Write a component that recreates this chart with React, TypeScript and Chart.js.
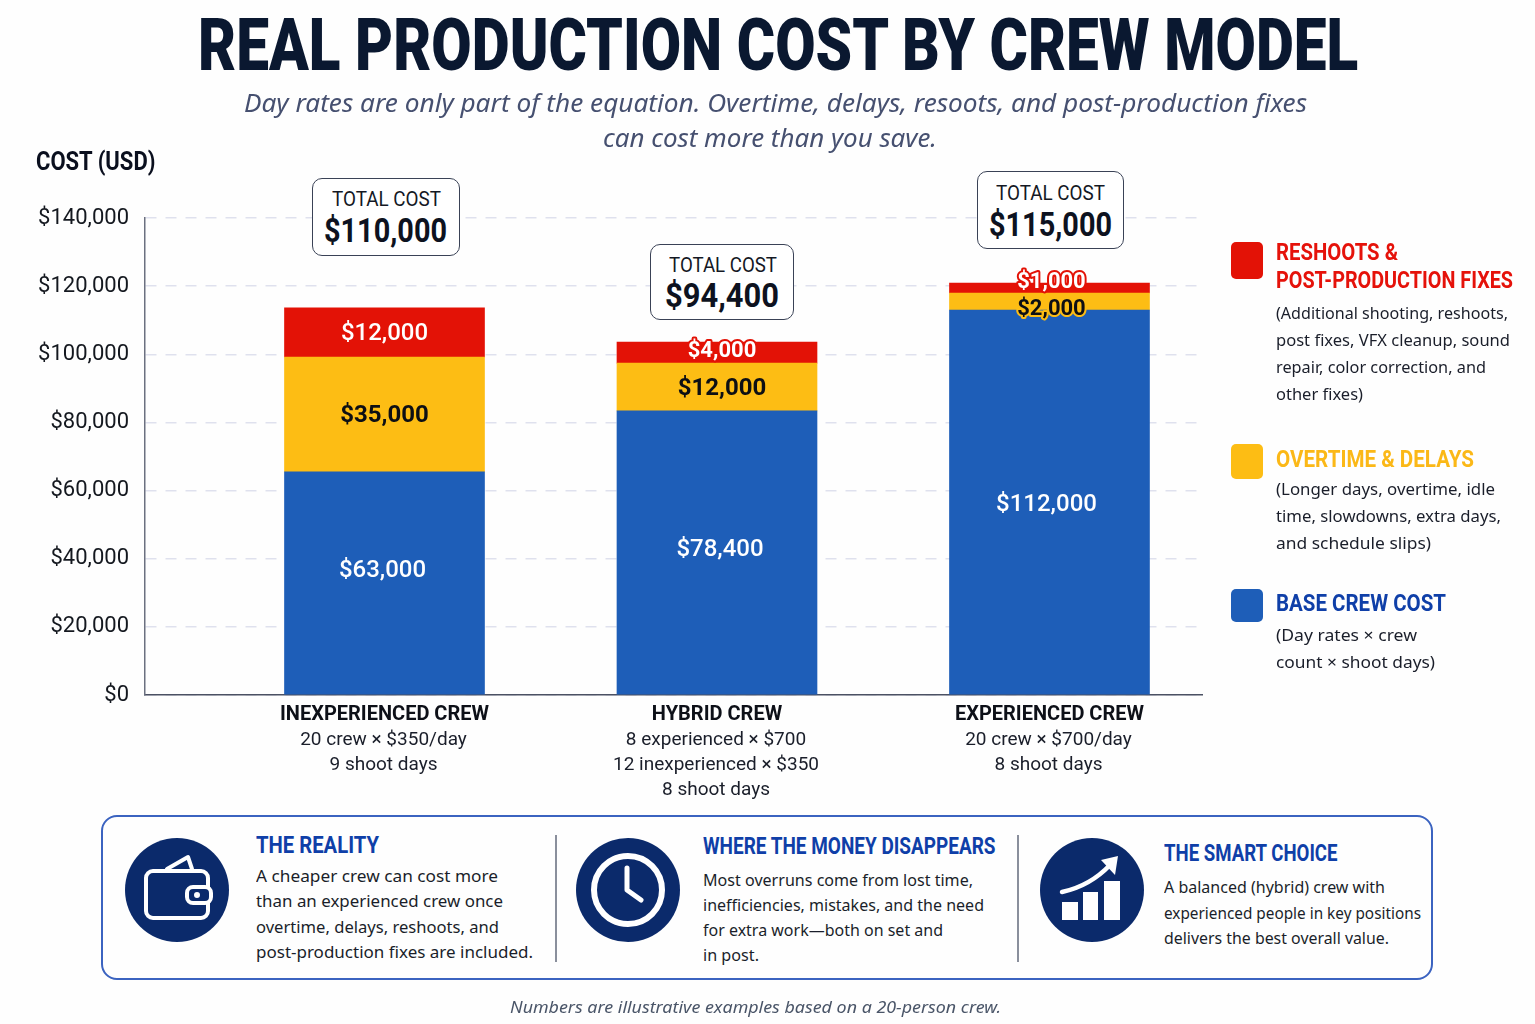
import React, { useEffect, useRef } from "react";
import { Chart, registerables } from "chart.js";

Chart.register(...registerables);

// ---------- chart data ----------
const crews = ["INEXPERIENCED CREW", "HYBRID CREW", "EXPERIENCED CREW"];
const crewDetails = [
  ["20 crew × $350/day", "9 shoot days"],
  ["8 experienced × $700", "12 inexperienced × $350", "8 shoot days"],
  ["20 crew × $700/day", "8 shoot days"],
];
// Segment heights as drawn in the picture
const baseCrewCost = [65500, 83400, 113000];
const overtimeDelays = [33700, 14000, 5000];
const reshootsFixes = [14400, 6200, 2900];
// Printed labels
const baseLabels = ["$63,000", "$78,400", "$112,000"];
const overtimeLabels = ["$35,000", "$12,000", "$2,000"];
const reshootLabels = ["$12,000", "$4,000", "$1,000"];
const totalLabels = ["$110,000", "$94,400", "$115,000"];

const BLUE = "#1e5eb8";
const YELLOW = "#fdbd14";
const RED = "#e31206";
const NAVY = "#0b2a6b";
const HEAD_BLUE = "#0f3fa8";
const INK = "#10141f";
const BODY = "Roboto, sans-serif";

// label nudges from a segment's middle, per dataset then per crew
const labelNudgeY = [
  [-14, -5, 1],
  [0, 0, 6],
  [0, -3, -8],
];
const labelNudgeX = [
  [-2, 3, -3],
  [0, 5, 2],
  [0, 5, 2],
];

const measureCanvas = document.createElement("canvas").getContext("2d")!;

type TP = { t: string; x: number; y: number; w: number; size: number; weight?: number; color?: string; italic?: boolean; family?: string };

function T({ t, x, y, w, size, weight = 400, color = INK, italic = false, family = BODY }: TP) {
  measureCanvas.font = `${italic ? "italic " : ""}${weight} ${size}px ${family}`;
  const natural = measureCanvas.measureText(t).width || 1;
  const lh = size * 1.2;
  return (
    <div
      style={{
        position: "absolute",
        left: x,
        top: y + 1 - lh / 2,
        lineHeight: `${lh}px`,
        fontSize: size,
        fontWeight: weight,
        fontStyle: italic ? "italic" : "normal",
        fontFamily: family,
        color,
        whiteSpace: "nowrap",
        transformOrigin: "0 50%",
        transform: `scaleX(${w / natural})`,
      }}
    >
      {t}
    </div>
  );
}

// [text, left, right, centre y]
type Line = [string, number, number, number];

const legendHeads: [string, number, number, number, string][] = [
  ["RESHOOTS &", 1276, 1398, 252, "#e5120a"],
  ["POST-PRODUCTION FIXES", 1276, 1513, 280, "#e5120a"],
  ["OVERTIME & DELAYS", 1276, 1474, 459, "#fbb817"],
  ["BASE CREW COST", 1276, 1446, 603, HEAD_BLUE],
];
const legendLines: Line[] = [
  ["(Additional shooting, reshoots,", 1276, 1508, 312],
  ["post fixes, VFX cleanup, sound", 1276, 1510, 339],
  ["repair, color correction, and", 1276, 1486, 366],
  ["other fixes)", 1276, 1363, 393],
  ["(Longer days, overtime, idle", 1276, 1495, 488],
  ["time, slowdowns, extra days,", 1276, 1501, 515],
  ["and schedule slips)", 1276, 1431, 542],
  ["(Day rates × crew", 1276, 1417, 634],
  ["count × shoot days)", 1276, 1435, 661],
];
const swatches: [number, number, string][] = [
  [242, 37, RED],
  [444, 35, YELLOW],
  [589, 33, BLUE],
];
const panelHeads: Line[] = [
  ["THE REALITY", 256, 379, 845],
  ["WHERE THE MONEY DISAPPEARS", 703, 996, 846],
  ["THE SMART CHOICE", 1164, 1338, 853],
];
const panelLines: Line[] = [
  ["A cheaper crew can cost more", 256, 498, 875],
  ["than an experienced crew once", 256, 503, 900],
  ["overtime, delays, reshoots, and", 256, 499, 926],
  ["post-production fixes are included.", 256, 533, 951],
  ["Most overruns come from lost time,", 703, 973, 879],
  ["inefficiencies, mistakes, and the need", 703, 984, 904],
  ["for extra work—both on set and", 703, 943, 929],
  ["in post.", 703, 759, 954],
  ["A balanced (hybrid) crew with", 1164, 1385, 886],
  ["experienced people in key positions", 1164, 1421, 912],
  ["delivers the best overall value.", 1164, 1389, 937],
];
const totalBoxes = [
  { left: 312, top: 178, width: 148, height: 78, cap: [332, 441, 199], val: [324, 447, 230] },
  { left: 650, top: 244, width: 144, height: 76, cap: [669, 777, 265], val: [665, 779, 295] },
  { left: 977, top: 171, width: 147, height: 78, cap: [996, 1105, 193], val: [989, 1112, 224] },
];

const barTextPlugin = {
  id: "barText",
  afterDatasetsDraw(chart: any) {
    const { ctx } = chart;
    const sets = [baseLabels, overtimeLabels, reshootLabels];
    ctx.save();
    ctx.textAlign = "center";
    ctx.textBaseline = "middle";
    sets.forEach((labels, d) => {
      const meta = chart.getDatasetMeta(d);
      labels.forEach((label, i) => {
        const bar = meta.data[i];
        const x = bar.x + labelNudgeX[d][i];
        const y = (bar.y + bar.base) / 2 + labelNudgeY[d][i] + 2;
        ctx.font = d === 1 ? "700 24px Roboto" : "500 24px Roboto";
        const outlined = (d === 2 && i > 0) || (d === 1 && i === 2);
        const fill = d === 1 ? "#0d0f14" : "#ffffff";
        if (outlined) {
          ctx.font = "700 22px Roboto";
          ctx.lineWidth = 4;
          ctx.lineJoin = "round";
          ctx.strokeStyle = d === 1 ? YELLOW : RED;
          ctx.strokeText(label, x, y);
        }
        ctx.fillStyle = fill;
        ctx.fillText(label, x, y);
      });
    });
    // second and third lines under each category tick
    const xs = chart.scales.x;
    ctx.font = "400 19px Roboto";
    ctx.fillStyle = "#1a1e2a";
    crewDetails.forEach((lines, i) => {
      const x = xs.getPixelForValue(i + 1);
      lines.forEach((line, n) => ctx.fillText(line, x - 1, xs.top + 45 + n * 25));
    });
    ctx.restore();
  },
};

function toPoints(values: number[]) {
  return values.map((y, i) => ({ x: i + 1, y }));
}

export default function App() {
  const ref = useRef<HTMLCanvasElement>(null);
  useEffect(() => {
    const chart = new Chart(ref.current!, {
      type: "bar",
      data: {
        datasets: [
          { label: "Base crew cost", data: toPoints(baseCrewCost) as any, backgroundColor: BLUE, barThickness: 200 },
          { label: "Overtime & delays", data: toPoints(overtimeDelays) as any, backgroundColor: YELLOW, barThickness: 200 },
          { label: "Reshoots & post-production fixes", data: toPoints(reshootsFixes) as any, backgroundColor: RED, barThickness: 200 },
        ],
      },
      plugins: [barTextPlugin],
      options: {
        animation: false,
        responsive: false,
        devicePixelRatio: 1,
        layout: { padding: { left: 0, top: 218, right: 333, bottom: 229 } },
        plugins: { legend: { display: false }, tooltip: { enabled: false }, title: { display: false } },
        scales: {
          x: {
            type: "linear",
            stacked: true,
            offset: false,
            min: 0.2797,
            max: 3.4587,
            afterFit: (s: any) => {
              s.height = 100;
            },
            grid: { display: false, offset: false, drawTicks: false },
            border: { display: true, color: "#4b5163", width: 1.5 },
            ticks: {
              stepSize: 1,
              includeBounds: false,
              autoSkip: false,
              maxRotation: 0,
              padding: 8,
              color: "#0d1018",
              font: { family: "Roboto", size: 20, weight: "bold" },
              callback: (v: any) => crews[Number(v) - 1] ?? "",
            },
          },
          y: {
            stacked: true,
            min: 0,
            max: 140000,
            afterFit: (s: any) => {
              s.width = 145;
            },
            grid: { color: "#dfe1ee", lineWidth: 1.5, drawTicks: false },
            border: { display: true, color: "#6b7080", width: 1.5, dash: [11, 9] },
            ticks: {
              stepSize: 20000,
              padding: 16,
              color: "#14181f",
              font: { family: "Roboto", size: 22 },
              callback: (v: any) => "$" + Number(v).toLocaleString("en-US"),
            },
          },
        },
      } as any,
    });
    return () => chart.destroy();
  }, []);

  return (
    <div style={{ position: "fixed", left: 0, top: 0, width: 1535, height: 1024, background: "#fefefe", overflow: "hidden" }}>
      <canvas ref={ref} width={1535} height={1024} style={{ position: "absolute", left: 0, top: 0 }} />

      <T t="REAL PRODUCTION COST BY CREW MODEL" x={198} y={45} w={1162} size={72} weight={900} color="#0a1830" />
      <T t="Day rates are only part of the equation. Overtime, delays, resoots, and post-production fixes" x={244} y={102} w={1063} size={26} italic color="#465070" family="'Noto Sans', sans-serif" />
      <T t="can cost more than you save." x={603} y={137} w={334} size={26} italic color="#465070" family="'Noto Sans', sans-serif" />
      <T t="COST (USD)" x={36} y={161} w={120} size={25} weight={700} color="#0a0f1e" />

      {totalBoxes.map((b, i) => (
        <React.Fragment key={i}>
          <div style={{ position: "absolute", left: b.left, top: b.top, width: b.width, height: b.height, boxSizing: "border-box", border: "1.5px solid #3a4256", borderRadius: 10, background: "#fff" }} />
          <T t="TOTAL COST" x={b.cap[0]} y={b.cap[2]} w={b.cap[1] - b.cap[0]} size={21} color="#141824" />
          <T t={totalLabels[i]} x={b.val[0]} y={b.val[2]} w={b.val[1] - b.val[0]} size={33} weight={700} color="#0d1220" />
        </React.Fragment>
      ))}

      {swatches.map(([top, h, c], i) => (
        <div key={i} style={{ position: "absolute", left: 1231, top, width: 32, height: h, borderRadius: 5, background: c }} />
      ))}
      {legendHeads.map(([t, a, b, y, c], i) => (
        <T key={i} t={t} x={a} y={y} w={b - a} size={23} weight={700} color={c} />
      ))}
      {legendLines.map(([t, a, b, y], i) => (
        <T key={i} t={t} x={a} y={y} w={b - a} size={17} color="#1a1e2a" family="'Noto Sans', sans-serif" />
      ))}

      <div style={{ position: "absolute", left: 101, top: 815, width: 1332, height: 165, boxSizing: "border-box", border: "2px solid #3b63c0", borderRadius: 16, background: "#fefefe" }} />
      <div style={{ position: "absolute", left: 555, top: 835, width: 1.5, height: 127, background: "#8a8f9c" }} />
      <div style={{ position: "absolute", left: 1017, top: 835, width: 1.5, height: 127, background: "#8a8f9c" }} />

      <svg width={104} height={104} viewBox="0 0 104 104" style={{ position: "absolute", left: 125, top: 838 }}>
        <circle cx={52} cy={52} r={52} fill={NAVY} />
        <g fill="none" stroke="#fff" strokeWidth={4} strokeLinejoin="round" strokeLinecap="round">
          <rect x={21} y={33} width={62} height={47} rx={7} />
          <polyline points="42,31 63,19 67,31" />
          <rect x={62} y={49} width={24} height={16} rx={6} fill={NAVY} />
          <circle cx={72} cy={57} r={2} fill="#fff" strokeWidth={2} />
        </g>
      </svg>
      <svg width={104} height={104} viewBox="0 0 104 104" style={{ position: "absolute", left: 576, top: 838 }}>
        <circle cx={52} cy={52} r={52} fill={NAVY} />
        <circle cx={52} cy={52} r={34} fill="none" stroke="#fff" strokeWidth={6} />
        <polyline points="51,30 51,52 65,62" fill="none" stroke="#fff" strokeWidth={5} strokeLinecap="round" strokeLinejoin="round" />
      </svg>
      <svg width={104} height={104} viewBox="0 0 104 104" style={{ position: "absolute", left: 1040, top: 838 }}>
        <circle cx={52} cy={52} r={52} fill={NAVY} />
        <rect x={22} y={64} width={16} height={18} fill="#fff" />
        <rect x={43} y={54} width={15} height={28} fill="#fff" />
        <rect x={64} y={43} width={16} height={39} fill="#fff" />
        <path d="M22 54 Q50 48 70 27" fill="none" stroke="#fff" strokeWidth={4.5} strokeLinecap="round" />
        <polygon points="78,18 61,22 75,37" fill="#fff" />
      </svg>

      {panelHeads.map(([t, a, b, y], i) => (
        <T key={i} t={t} x={a} y={y} w={b - a} size={23} weight={700} color={HEAD_BLUE} />
      ))}
      {panelLines.map(([t, a, b, y], i) => (
        <T key={i} t={t} x={a} y={y} w={b - a} size={17} color="#1a1e2a" family="'Noto Sans', sans-serif" />
      ))}
      <T t="Numbers are illustrative examples based on a 20-person crew." x={510} y={1006} w={491} size={17} italic color="#4a5568" family="'Noto Sans', sans-serif" />
    </div>
  );
}
